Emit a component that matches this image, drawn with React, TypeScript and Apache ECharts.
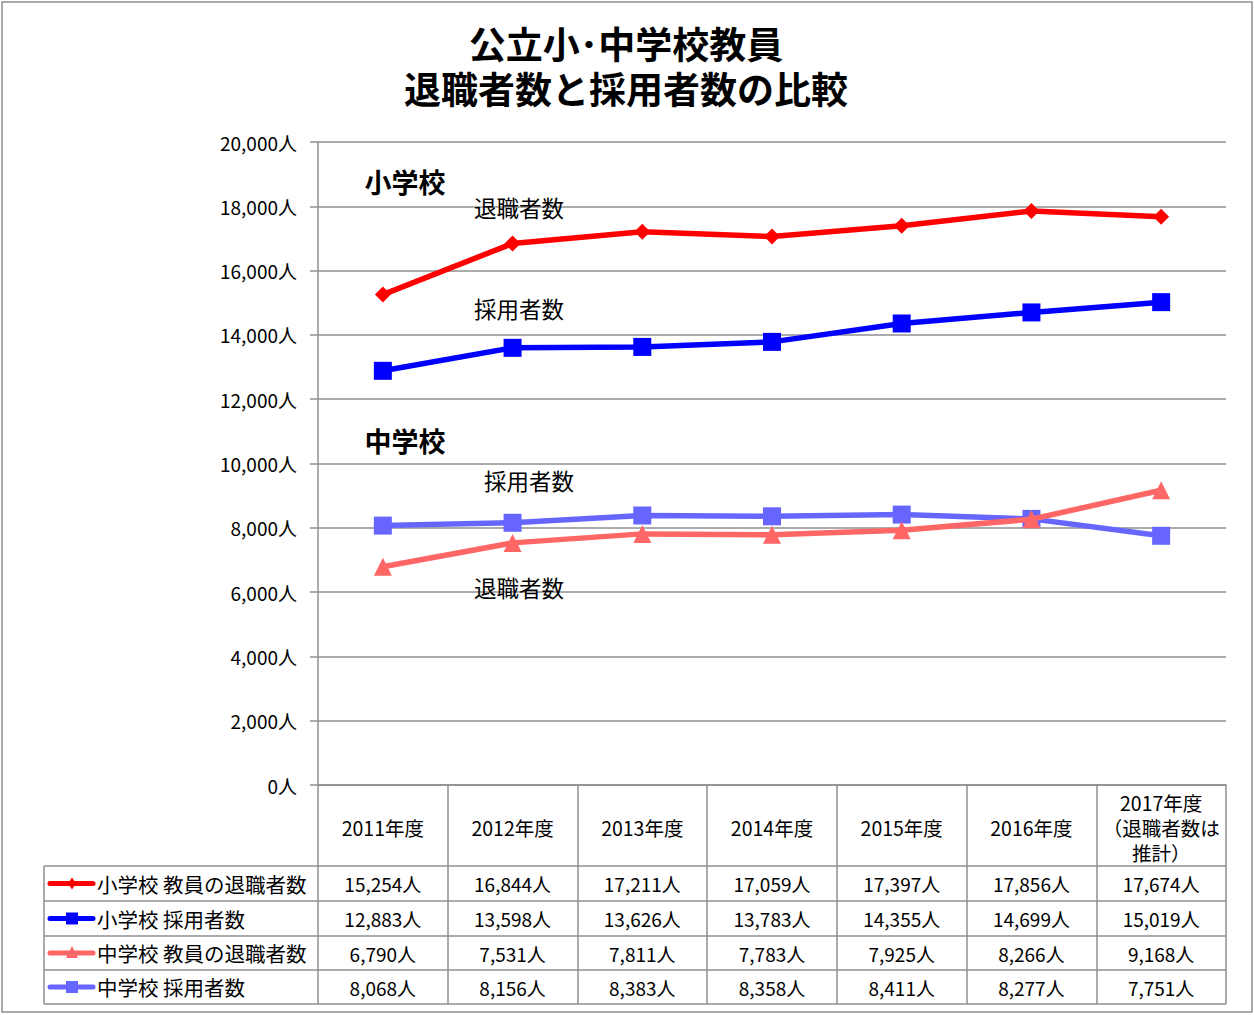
import React, { useEffect, useRef } from "react";
import * as echarts from "echarts";

const categories = ["2011年度", "2012年度", "2013年度", "2014年度", "2015年度", "2016年度", "2017年度\n（退職者数は\n推計）"];
const seriesNames = ["小学校 教員の退職者数", "小学校 採用者数", "中学校 教員の退職者数", "中学校 採用者数"];
const elemRetire = [15254, 16844, 17211, 17059, 17397, 17856, 17674];
const elemHire = [12883, 13598, 13626, 13783, 14355, 14699, 15019];
const juniorRetire = [6790, 7531, 7811, 7783, 7925, 8266, 9168];
const juniorHire = [8068, 8156, 8383, 8358, 8411, 8277, 7751];
const yTicks = { min: 0, max: 20000, interval: 2000 };

const colors = ["#ff0000", "#0000ff", "#ff6666", "#6666ff"];
const symbols = ["diamond", "rect", "triangle", "rect"];
const symbolSizes = [16, 18, 18, 18];
const FONT = "'Noto Sans CJK JP', 'Noto Sans', sans-serif";
const GRAY = "#8f8f8f";

export default function App() {
  const ref = useRef<HTMLDivElement>(null);
  useEffect(() => {
    document.body.style.margin = "0";
    const chart = echarts.init(ref.current!, null, { renderer: "svg" });
    const allData = [elemRetire, elemHire, juniorRetire, juniorHire];
    const gridTop = 142;
    const gridBottomY = 785;
    chart.setOption({
      animation: false,
      backgroundColor: "#ffffff",
      textStyle: { fontFamily: FONT },
      title: {
        text: "公立小･中学校教員\n退職者数と採用者数の比較",
        left: 621,
        top: 15,
        textAlign: "center",
        textStyle: { fontSize: 37, fontWeight: "bold", lineHeight: 45, color: "#000", fontFamily: FONT },
      },
      grid: { left: 318, right: 28, top: gridTop, bottom: 1015 - gridBottomY, containLabel: false },
      xAxis: {
        type: "category",
        data: categories,
        boundaryGap: true,
        axisLine: { show: true, lineStyle: { color: GRAY, width: 1.5 } },
        axisTick: { show: true, length: 219, interval: 0, lineStyle: { color: GRAY, width: 1.5 } },
        axisLabel: {
          interval: 0,
          margin: 42,
          verticalAlign: "middle",
          fontSize: 19.5,
          lineHeight: 25,
          color: "#000",
          fontFamily: FONT,
        },
        splitLine: { show: false },
      },
      yAxis: {
        type: "value",
        min: yTicks.min,
        max: yTicks.max,
        interval: yTicks.interval,
        axisLine: { show: true, lineStyle: { color: GRAY, width: 1.5 } },
        axisTick: { show: true, length: 8, lineStyle: { color: GRAY, width: 1.5 } },
        axisLabel: {
          margin: 21,
          fontSize: 19,
          color: "#000",
          fontFamily: FONT,
          formatter: (v: number) => v.toLocaleString("en-US") + "人",
        },
        splitLine: { show: true, lineStyle: { color: GRAY, width: 1.5 } },
      },
      series: allData.map((d, i) => ({
        name: seriesNames[i],
        type: "line",
        data: d,
        symbol: symbols[i],
        symbolSize: symbolSizes[i],
        lineStyle: { color: colors[i], width: 5.5 },
        itemStyle: { color: colors[i] },
        z: 10 - i,
      })),
    });

    const xs = categories.map((_, i) => chart.convertToPixel({ xAxisIndex: 0 }, i) as number);
    const colW = xs.length > 1 ? xs[1] - xs[0] : 130;
    const tableLeft = 44;
    const tableRight = xs[xs.length - 1] + colW / 2;
    const rowLines = [866, 901, 936, 970, 1004];
    const graphics: any[] = [];
    graphics.push({
      type: "rect",
      shape: { x: 2, y: 2, width: 1250, height: 1010 },
      style: { fill: "none", stroke: GRAY, lineWidth: 1.5 },
      silent: true,
    });
    rowLines.forEach((y) => {
      graphics.push({
        type: "line",
        shape: { x1: tableLeft, y1: y, x2: tableRight, y2: y },
        style: { stroke: GRAY, lineWidth: 1.5 },
      });
    });
    graphics.push({
      type: "line",
      shape: { x1: tableLeft, y1: rowLines[0], x2: tableLeft, y2: rowLines[rowLines.length - 1] },
      style: { stroke: GRAY, lineWidth: 1.5 },
    });
    allData.forEach((d, r) => {
      const cy = (rowLines[r] + rowLines[r + 1]) / 2;
      graphics.push({
        type: "line",
        shape: { x1: 50, y1: cy, x2: 93, y2: cy },
        style: { stroke: colors[r], lineWidth: 5, lineCap: "round" },
      });
      const mx = 72;
      if (symbols[r] === "diamond") {
        graphics.push({
          type: "polygon",
          shape: { points: [[mx, cy - 6], [mx + 4, cy], [mx, cy + 6], [mx - 4, cy]] },
          style: { fill: colors[r] },
        });
      } else if (symbols[r] === "rect") {
        graphics.push({
          type: "rect",
          shape: { x: mx - 6, y: cy - 6, width: 12, height: 12 },
          style: { fill: colors[r] },
        });
      } else {
        graphics.push({
          type: "polygon",
          shape: { points: [[mx, cy - 7], [mx + 6, cy + 5], [mx - 6, cy + 5]] },
          style: { fill: colors[r] },
        });
      }
      graphics.push({
        type: "text",
        x: 97,
        y: cy,
        style: { text: seriesNames[r], fontSize: 20.5, fontFamily: FONT, fill: "#000", verticalAlign: "middle", align: "left" },
      });
      d.forEach((v, c) => {
        graphics.push({
          type: "text",
          x: xs[c],
          y: cy,
          style: {
            text: v.toLocaleString("en-US") + "人",
            fontSize: 19,
            fontFamily: FONT,
            fill: "#000",
            verticalAlign: "middle",
            align: "center",
          },
        });
      });
    });
    const notes = [
      { t: "小学校", x: 405, y: 181, b: true, s: 27 },
      { t: "退職者数", x: 519, y: 207, b: false, s: 22.5 },
      { t: "採用者数", x: 519, y: 308, b: false, s: 22.5 },
      { t: "中学校", x: 405, y: 440, b: true, s: 27 },
      { t: "採用者数", x: 529, y: 480, b: false, s: 22.5 },
      { t: "退職者数", x: 519, y: 587, b: false, s: 22.5 },
    ];
    notes.forEach((n) => {
      graphics.push({
        type: "text",
        x: n.x,
        y: n.y,
        z: 20,
        style: {
          text: n.t,
          fontSize: n.s,
          fontWeight: n.b ? "bold" : "normal",
          fontFamily: FONT,
          fill: "#000",
          align: "center",
          verticalAlign: "middle",
        },
      });
    });
    chart.setOption({ graphic: graphics });
    return () => chart.dispose();
  }, []);
  return <div ref={ref} style={{ width: 1254, height: 1015 }} />;
}
